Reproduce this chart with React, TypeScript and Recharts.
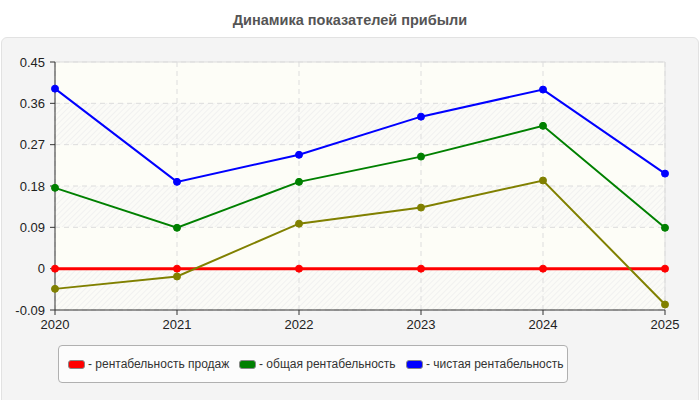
import React from 'react';
import { LineChart, Line, XAxis, YAxis, CartesianGrid, ReferenceLine } from 'recharts';

const years = [2020, 2021, 2022, 2023, 2024, 2025];
const salesProfitability = [0, 0, 0, 0, 0, 0];
const totalProfitability = [0.176, 0.089, 0.189, 0.244, 0.311, 0.089];
const netProfitability = [0.392, 0.189, 0.248, 0.331, 0.39, 0.207];
const otherSeries = [-0.044, -0.017, 0.098, 0.133, 0.192, -0.078];
const yTicks = [-0.09, 0, 0.09, 0.18, 0.27, 0.36, 0.45];

const legendItems = [
  { name: '- рентабельность продаж', color: '#ff0000' },
  { name: '- общая рентабельность', color: '#008000' },
  { name: '- чистая рентабельность', color: '#0000ff' },
];
const legendOffsets = [9, 180, 347];

const data = years.map((y, i) => ({
  year: y,
  sales: salesProfitability[i],
  total: totalProfitability[i],
  net: netProfitability[i],
  other: otherSeries[i],
}));

const font = '"Liberation Sans", Arial, sans-serif';

export default function App() {
  return (
    <div style={{ position: 'absolute', left: 0, top: 0, width: 700, height: 400, background: '#ffffff', fontFamily: font, overflow: 'hidden' }}>
      <div style={{ position: 'absolute', left: 0, top: 12, width: 700, textAlign: 'center', fontSize: 14.5, fontWeight: 'bold', color: '#555555' }}>
        Динамика показателей прибыли
      </div>
      <div style={{ position: 'absolute', left: 1, top: 37, width: 696, height: 370, background: '#f4f4f4', border: '1px solid #e2e2e2', borderRadius: 6 }} />
      <div style={{ position: 'absolute', left: 0, top: 0 }}>
        <LineChart width={700} height={400} data={data} margin={{ top: 62, right: 35, bottom: 60, left: 10 }}>
          <defs>
            <pattern id="hatch" width="4" height="4" patternUnits="userSpaceOnUse" patternTransform="rotate(45)">
              <rect width="4" height="4" fill="#fbfbf7" />
              <line x1="0" y1="0" x2="0" y2="4" stroke="#eeeeee" strokeWidth="1.5" />
            </pattern>
          </defs>
          <CartesianGrid
            stroke="#dddddd"
            strokeDasharray="5 4"
            horizontalFill={['#fdfdf7', 'url(#hatch)']}
            fillOpacity={1}
          />
          <ReferenceLine y={0.45} stroke="#dddddd" />
          <ReferenceLine x={2025} stroke="#dddddd" />
          <XAxis
            dataKey="year"
            type="number"
            domain={[2020, 2025]}
            ticks={years}
            height={30}
            stroke="#333333"
            tick={{ fill: '#222222', fontSize: 13, fontFamily: font }}
            tickSize={5}
            tickMargin={5}
            interval={0}
          />
          <YAxis
            type="number"
            domain={[-0.09, 0.45]}
            ticks={yTicks}
            width={45}
            stroke="#333333"
            tick={{ fill: '#222222', fontSize: 13, fontFamily: font }}
            tickSize={5}
            tickMargin={5}
            interval={0}
            tickFormatter={(v: number) => String(v)}
          />
          <Line dataKey="sales" stroke="#ff0000" strokeWidth={3} dot={{ r: 3.5, fill: '#ff0000', stroke: '#ff0000', strokeWidth: 1 }} isAnimationActive={false} />
          <Line dataKey="other" stroke="#808000" strokeWidth={2} dot={{ r: 3.5, fill: '#808000', stroke: '#808000', strokeWidth: 1 }} isAnimationActive={false} />
          <Line dataKey="total" stroke="#008000" strokeWidth={2} dot={{ r: 3.5, fill: '#008000', stroke: '#008000', strokeWidth: 1 }} isAnimationActive={false} />
          <Line dataKey="net" stroke="#0000ff" strokeWidth={2} dot={{ r: 3.5, fill: '#0000ff', stroke: '#0000ff', strokeWidth: 1 }} isAnimationActive={false} />
        </LineChart>
      </div>
      <div style={{ position: 'absolute', left: 58, top: 345, width: 508, height: 36, background: '#fcfcfc', border: '1px solid #b0b0b0', borderRadius: 4 }}>
        {legendItems.map((it, i) => (
          <div key={i} style={{ position: 'absolute', left: legendOffsets[i], top: 0, height: 36, display: 'flex', alignItems: 'center', fontSize: 12, color: '#333333', whiteSpace: 'nowrap' }}>
            <span style={{ display: 'inline-block', width: 15, height: 7, background: it.color, border: '1px solid #888', borderRadius: 3, marginRight: 3 }} />
            <span>{it.name}</span>
          </div>
        ))}
      </div>
    </div>
  );
}
